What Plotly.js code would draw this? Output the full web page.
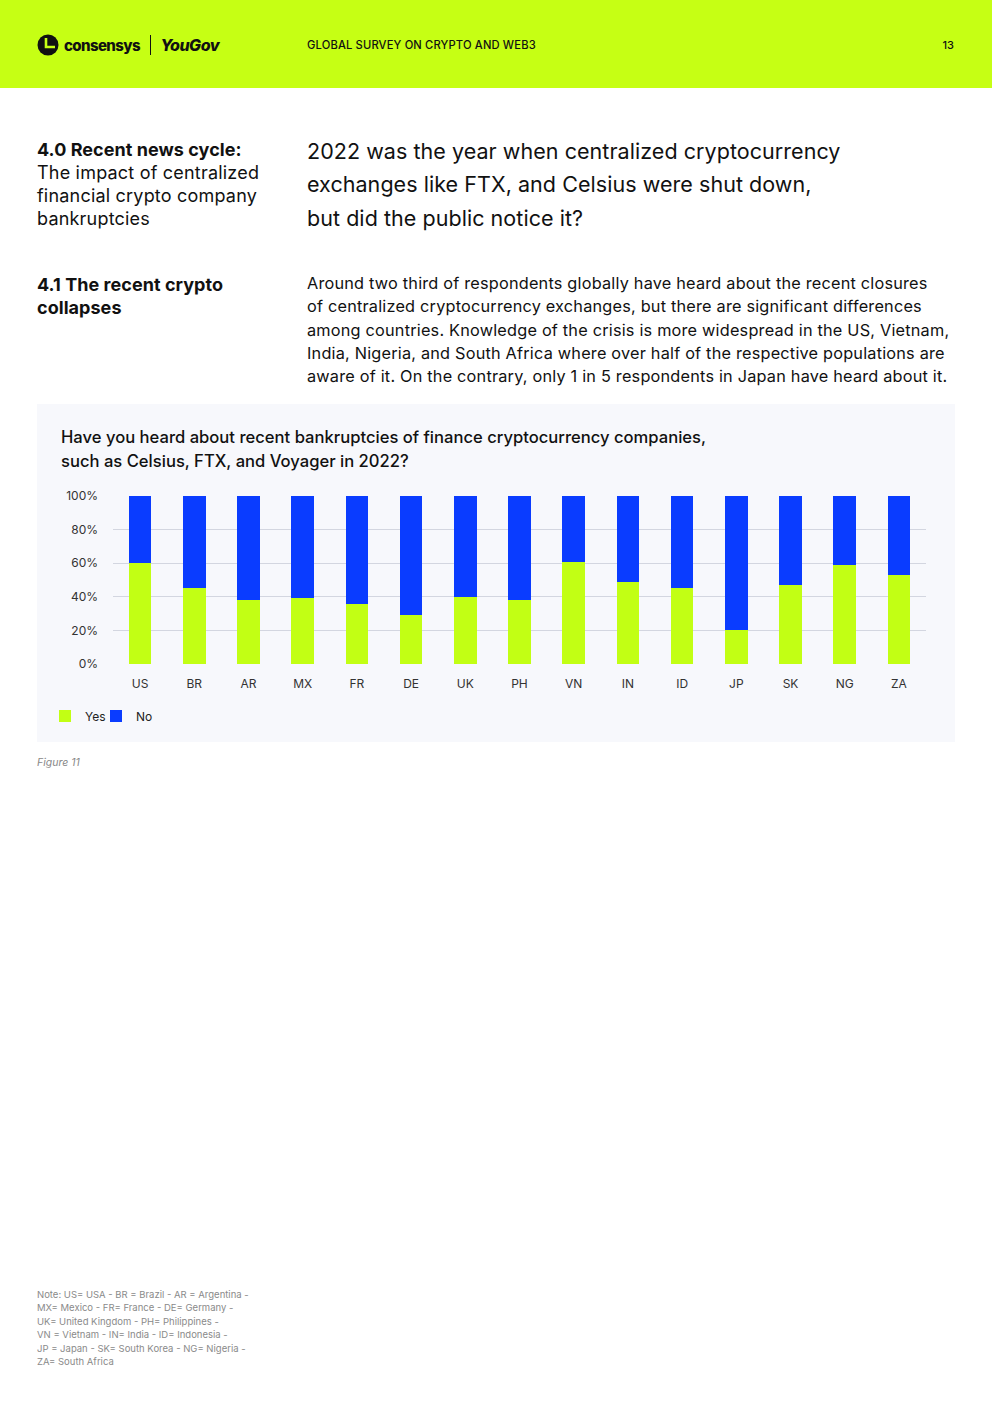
<!DOCTYPE html>
<html>
<head>
<meta charset="utf-8">
<script src="https://cdn.plot.ly/plotly-3.0.1.min.js"></script>
<style>
  html, body { margin: 0; padding: 0; background: #ffffff; }
  body { width: 992px; height: 1403px; position: relative; overflow: hidden; font-family: "Inter", "Noto Sans", sans-serif; color: #111; }
  .abs { position: absolute; }
  #header { left: 0; top: 0; width: 992px; height: 88px; background: #C6FF14; }
  #logo1 { left: 37px; top: 33px; height: 24px; display: flex; align-items: center; font-weight: 800; font-size: 15px; letter-spacing: -0.6px; color: #111; }
  #logo1 .sep { display: inline-block; width: 1.5px; height: 20px; background: #111; margin: 0 9px 0 10px; }
  #logo1 .yg { font-style: italic; font-weight: 800; font-size: 16px; letter-spacing: -0.5px; }
  #htitle { left: 307px; top: 38px; font-size: 11.2px; font-weight: 500; letter-spacing: 0.15px; color: #111; }
  #pnum { right: 38px; top: 38px; font-size: 11px; font-weight: 500; color: #111; }
  .h18 { font-size: 18px; line-height: 23px; letter-spacing: 0.2px; }
  .b { font-weight: 700; letter-spacing: 0.05px; }
  #s40 { left: 37px; top: 138px; }
  #lead { left: 307px; top: 135px; font-size: 21.5px; line-height: 33.3px; font-weight: 400; letter-spacing: 0.05px; }
  #s41 { left: 37px; top: 273px; }
  #para { left: 307px; top: 272px; font-size: 16.3px; line-height: 23.3px; letter-spacing: 0.2px; }
  #panel { left: 37px; top: 404px; width: 918px; height: 338px; background: #F7F8FC; }
  #chart { left: 37px; top: 404px; width: 918px; height: 338px; }
  #fig { left: 37px; top: 756px; font-size: 10.5px; font-style: italic; color: #888; }
  #note { left: 37px; top: 1288px; font-size: 9.5px; line-height: 13.4px; color: #8a8a8a; }
</style>
</head>
<body>
<div id="header" class="abs"></div>
<div id="logo1" class="abs">
  <svg width="22" height="22" viewBox="0 0 22 22" style="margin-right:5px">
    <circle cx="11" cy="11" r="10.5" fill="#111"/>
    <path d="M9 4 V13 H18" stroke="#C6FF14" stroke-width="2.6" fill="none"/>
  </svg>
  <span>consensys</span><span class="sep"></span><span class="yg">YouGov</span>
</div>
<div id="htitle" class="abs">GLOBAL SURVEY ON CRYPTO AND WEB3</div>
<div id="pnum" class="abs">13</div>

<div id="s40" class="abs h18"><span class="b">4.0 Recent news cycle:</span><br>The impact of centralized<br>financial crypto company<br>bankruptcies</div>
<div id="lead" class="abs">2022 was the year when centralized cryptocurrency<br>exchanges like FTX, and Celsius were shut down,<br>but did the public notice it?</div>

<div id="s41" class="abs h18 b">4.1 The recent crypto<br>collapses</div>
<div id="para" class="abs">Around two third of respondents globally have heard about the recent closures<br>of centralized cryptocurrency exchanges, but there are significant differences<br>among countries. Knowledge of the crisis is more widespread in the US, Vietnam,<br>India, Nigeria, and South Africa where over half of the respective populations are<br>aware of it. On the contrary, only 1 in 5 respondents in Japan have heard about it.</div>

<div id="panel" class="abs"></div>
<div id="chart" class="abs"></div>

<div id="fig" class="abs">Figure 11</div>
<div id="note" class="abs">Note: US= USA - BR = Brazil - AR = Argentina -<br>MX= Mexico - FR= France - DE= Germany -<br>UK= United Kingdom - PH= Philippines -<br>VN = Vietnam - IN= India - ID= Indonesia -<br>JP = Japan - SK= South Korea - NG= Nigeria -<br>ZA= South Africa</div>

<script>
const countries = ["US","BR","AR","MX","FR","DE","UK","PH","VN","IN","ID","JP","SK","NG","ZA"];
const yesValues = [60, 45, 38, 39, 36, 29, 40, 38, 61, 49, 45, 20, 47, 59, 53];
const noValues  = [40, 55, 62, 61, 64, 71, 60, 62, 39, 51, 55, 80, 53, 41, 47];
const yTickVals = [0, 20, 40, 60, 80, 100];
const yTickText = ["0%", "20%", "40%", "60%", "80%", "100%"];
const chartTitleLines = [
  "Have you heard about recent bankruptcies of finance cryptocurrency companies,",
  "such as Celsius, FTX, and Voyager in 2022?"
];

const FONT = '"Inter", "Noto Sans", sans-serif';
const W = 918, H = 338;

const traces = [
  { type: "bar", name: "Yes", x: countries, y: yesValues, marker: { color: "#C2FF14" }, hoverinfo: "skip", legend: "legend" },
  { type: "bar", name: "No",  x: countries, y: noValues,  marker: { color: "#0A3CFF" }, hoverinfo: "skip", legend: "legend2" }
];

const legendBase = {
  orientation: "h", xref: "container", yref: "container",
  xanchor: "left", y: 1 - (716 - 404) / H, yanchor: "middle",
  font: { family: FONT, size: 12, color: "#222" }, bgcolor: "rgba(0,0,0,0)"
};

const layout = {
  width: W, height: H,
  paper_bgcolor: "#F7F8FC", plot_bgcolor: "#F7F8FC",
  margin: { l: 76, r: 29, t: 92, b: 78, autoexpand: false },
  barmode: "stack",
  bargap: 0.58,
  font: { family: FONT, size: 12, color: "#333" },
  showlegend: true,
  legend: Object.assign({}, legendBase, { x: 8 / W }),
  legend2: Object.assign({}, legendBase, { x: 59 / W }),
  xaxis: {
    type: "category", showgrid: false, zeroline: false, showline: false,
    ticks: "", ticklabelstandoff: 11, tickfont: { family: FONT, size: 12, color: "#333" },
    fixedrange: true
  },
  yaxis: {
    range: [0, 100], tickvals: yTickVals, ticktext: yTickText,
    showgrid: true, gridcolor: "#D3D6E0", gridwidth: 1, zeroline: false, showline: false,
    ticks: "", ticklabelstandoff: 14, tickfont: { family: FONT, size: 12, color: "#333" },
    fixedrange: true
  },
  annotations: chartTitleLines.map((t, i) => ({
    text: t, xref: "paper", yref: "paper",
    x: (59 - 113) / 813, y: (664 - 437 - i * 24) / 168,
    xanchor: "left", yanchor: "middle", showarrow: false,
    font: { family: FONT, size: 16.6, color: "#111", weight: 500 }
  }))
};

Plotly.newPlot("chart", traces, layout, { staticPlot: true, displayModeBar: false });
</script>
</body>
</html>
